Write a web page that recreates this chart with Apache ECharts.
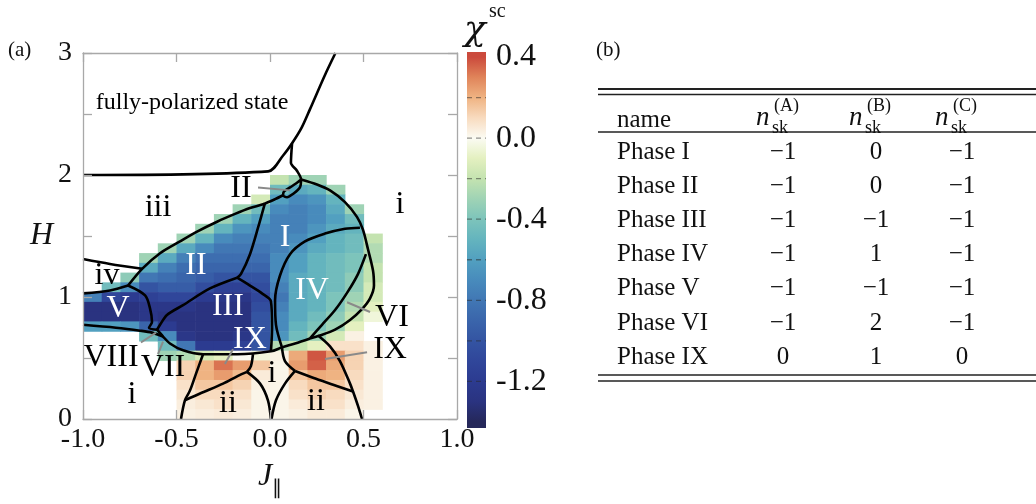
<!DOCTYPE html>
<html><head><meta charset="utf-8">
<script src="https://cdn.jsdelivr.net/npm/echarts@6/dist/echarts.min.js"></script>
<style>html,body{margin:0;padding:0;background:#fff}#c{width:1036px;height:504px}</style>
</head><body><div id="c"></div>
<script>
const _ = null;
const FF = "'Liberation Serif','Times New Roman',serif";

// ---- heat map of chi^sc: column centres (J_par), row centres (H, top to bottom) ----
const xCenters = [-0.95,-0.85,-0.75,-0.65,-0.55,-0.45,-0.35,-0.25,-0.15,-0.05,0.05,0.15,0.25,0.35,0.45,0.55];
const hCenters = [1.96,1.88,1.80,1.72,1.64,1.56,1.48,1.40,1.32,1.24,1.16,1.08,1.00,0.92,0.84,0.76,0.68,0.60,0.52,0.44,0.36,0.28,0.20,0.12,0.04];
const chiRows = [
 [_,_,_,_,_,_,_,_,_,_,-0.2,-0.3,-0.3,_,_,_],
 [_,_,_,_,_,_,_,_,_,_,-0.45,-0.55,-0.5,-0.3,_,_],
 [_,_,_,_,_,_,_,_,_,-0.15,-0.6,-0.7,-0.65,-0.5,_,_],
 [_,_,_,_,_,_,_,_,-0.3,-0.45,-0.7,-0.75,-0.7,-0.55,-0.3,_],
 [_,_,_,_,_,_,_,-0.3,-0.5,-0.6,-0.75,-0.75,-0.7,-0.6,-0.45,_],
 [_,_,_,_,_,_,-0.3,-0.5,-0.65,-0.7,-0.75,-0.75,-0.65,-0.55,-0.5,_],
 [_,_,_,_,_,-0.3,-0.5,-0.7,-0.75,-0.75,-0.75,-0.7,-0.6,-0.5,-0.45,-0.2],
 [_,_,_,_,-0.3,-0.55,-0.7,-0.8,-0.8,-0.8,-0.75,-0.65,-0.55,-0.5,-0.45,-0.25],
 [_,_,_,-0.3,-0.55,-0.75,-0.85,-0.85,-0.85,-0.85,-0.7,-0.6,-0.5,-0.45,-0.4,-0.25],
 [_,_,_,-0.55,-0.75,-0.85,-0.9,-0.9,-0.9,-0.9,-0.7,-0.6,-0.5,-0.45,-0.4,-0.2],
 [_,_,-0.35,-0.8,-0.85,-0.9,-0.95,-1.0,-1.0,-1.0,-0.7,-0.55,-0.5,-0.45,-0.35,-0.2],
 [_,-0.45,-0.7,-1.0,-0.95,-0.95,-1.05,-1.15,-1.15,-1.05,-0.75,-0.55,-0.5,-0.45,-0.35,-0.15],
 [-0.75,-1.1,-1.2,-1.15,-1.1,-1.1,-1.2,-1.25,-1.25,-1.1,-0.8,-0.55,-0.5,-0.4,-0.3,-0.15],
 [-1.3,-1.3,-1.3,-1.25,-1.25,-1.25,-1.3,-1.3,-1.3,-1.05,-0.75,-0.55,-0.5,-0.4,-0.25,-0.1],
 [-1.3,-1.3,-1.3,-1.25,-1.3,-1.3,-1.3,-1.3,-1.3,-1.0,-0.7,-0.55,-0.45,-0.35,-0.2,-0.05],
 [-0.6,-0.6,-0.65,-0.9,-1.2,-1.3,-1.3,-1.3,-1.3,-1.0,-0.7,-0.5,-0.4,-0.3,-0.1,_],
 [_,_,_,-0.45,-0.7,-1.25,-1.3,-1.3,-1.25,-1.0,-0.65,-0.45,-0.3,-0.15,0.03,_],
 [_,_,_,_,-0.45,-0.8,-1.2,-1.2,-1.15,-1.0,-0.25,-0.2,-0.1,0.08,0.08,0.03],
 [_,_,_,_,-0.3,-0.25,-0.15,-0.1,0.0,-0.05,0.03,0.22,0.38,0.25,0.12,0.03],
 [_,_,_,_,_,0.12,0.2,0.33,0.25,0.15,0.02,0.25,0.36,0.22,0.12,0.03],
 [_,_,_,_,_,0.12,0.2,0.25,0.18,0.05,0.02,0.15,0.22,0.2,0.1,0.03],
 [_,_,_,_,_,0.08,0.15,0.15,0.12,0.03,0.02,0.1,0.15,0.15,0.08,0.03],
 [_,_,_,_,_,0.06,0.1,0.1,0.08,0.02,0.02,0.08,0.12,0.1,0.06,0.03],
 [_,_,_,_,_,0.04,0.06,0.08,0.06,0.02,0.02,0.05,0.08,0.08,0.04,0.03],
 [_,_,_,_,_,0.03,0.04,0.05,0.04,0.02,0.02,0.03,0.05,0.05,0.02,_]
];
const cellW = 0.1, cellH = 0.08;

// ---- colour scale ----
const cmapValues = [-1.4,-1.3,-1.2,-1.1,-1.0,-0.9,-0.8,-0.7,-0.6,-0.5,-0.4,-0.3,-0.2,-0.1,0.0,0.1,0.2,0.3,0.4];
const cmapColors = ['#25285a','#2a3380','#2c3b90','#30469a','#3454a2','#3a65ab','#4177b4','#488bbc','#52a0c0','#64b4be','#7dc4bb','#9fd3b5','#c4e3b0','#e4f0c0','#fbfbf3','#f8dbbf','#efb382','#e0845a','#cb4a3c'];
const cbMin = -1.43, cbMax = 0.425;
const cbLabelValues = [0.4, 0.0, -0.4, -0.8, -1.2];
const cbTickValues = [0.2, 0.0, -0.2, -0.4, -0.6, -0.8, -1.0, -1.2];

// ---- phase boundaries (J_par, H) ----
const bFully = [[-1.0,2.0],[-0.01,2.03],[0.07,2.16],[0.118,2.26],[0.17,2.39],[0.214,2.54],[0.294,2.82],[0.35,3.0]];
const bStem = [[0.118,2.26],[0.112,2.10],[0.144,2.035],[0.166,1.963],[0.160,1.898],[0.128,1.850],[0.091,1.818],[0.070,1.834],[0.075,1.866],[0.107,1.898],[0.139,1.930],[0.166,1.963]];
const bIIUpper = [[-0.759,1.094],[-0.684,1.231],[-0.588,1.359],[-0.481,1.456],[-0.390,1.536],[-0.283,1.617],[-0.187,1.681],[-0.107,1.729],[-0.037,1.761],[0.027,1.802],[0.070,1.834]];
const bIvTop = [[-1.0,1.311],[-0.856,1.271],[-0.684,1.231]];
const bVTop = [[-1.0,1.030],[-0.856,1.054],[-0.759,1.094]];
const bVRight = [[-0.759,1.094],[-0.668,1.013],[-0.642,0.909],[-0.631,0.796],[-0.647,0.748],[-0.604,0.732]];
const bIIIUpper = [[-0.176,1.158],[-0.321,1.070],[-0.465,0.933],[-0.551,0.853],[-0.588,0.772],[-0.604,0.732]];
const bIandII = [[-0.027,1.770],[-0.064,1.568],[-0.107,1.351],[-0.155,1.190],[-0.176,1.158]];
const bIIIRight = [[-0.176,1.158],[-0.107,1.094],[-0.043,1.030],[0.005,0.965],[0.011,0.748],[0.005,0.555]];
const bIVInner = [[0.064,0.587],[0.032,0.772],[0.027,0.973],[0.053,1.174],[0.107,1.351],[0.187,1.456],[0.294,1.520],[0.401,1.560],[0.481,1.568]];
const bOuter = [[0.166,1.963],[0.251,1.922],[0.321,1.874],[0.401,1.778],[0.465,1.657],[0.497,1.552],[0.524,1.391],[0.551,1.215],[0.556,1.094],[0.535,0.989],[0.492,0.901],[0.428,0.812],[0.348,0.732],[0.267,0.684],[0.214,0.660]];
const bIVVI = [[0.513,1.351],[0.471,1.190],[0.417,1.046],[0.348,0.893],[0.278,0.772],[0.214,0.660]];
const bIIIBottom = [[0.214,0.660],[0.134,0.619],[0.064,0.587],[0.005,0.555],[-0.176,0.531],[-0.358,0.531],[-0.465,0.563],[-0.535,0.619],[-0.572,0.676],[-0.604,0.732]];
const bVBottom = [[-1.0,0.772],[-0.824,0.748],[-0.695,0.724],[-0.631,0.708],[-0.572,0.676]];
const bLeftCurve = [[-0.358,0.531],[-0.396,0.370],[-0.428,0.233],[-0.455,0.153],[-0.476,0.0]];
const bIILeftTop = [[-0.455,0.153],[-0.374,0.209],[-0.251,0.290],[-0.171,0.354],[-0.123,0.386]];
const bIXLeftSide = [[-0.091,0.531],[-0.102,0.434],[-0.123,0.386]];
const bLeftArc = [[-0.123,0.386],[-0.053,0.290],[-0.011,0.153],[0.005,0.0]];
const bRightArc = [[0.134,0.394],[0.080,0.290],[0.032,0.153],[0.008,0.0]];
const bIXRightSide = [[0.064,0.587],[0.080,0.475],[0.134,0.394]];
const bIXRightLower = [[0.134,0.394],[0.246,0.330],[0.353,0.273],[0.444,0.225]];
const bRightCurve = [[0.257,0.684],[0.321,0.595],[0.374,0.475],[0.428,0.290],[0.444,0.225],[0.471,0.105],[0.492,0.0]];
const boundaryLines = [bFully,bStem,bIIUpper,bIvTop,bVTop,bVRight,bIIIUpper,bIandII,bIIIRight,bIVInner,bOuter,bIVVI,bIIIBottom,bVBottom,bLeftCurve,bIILeftTop,bIXLeftSide,bLeftArc,bRightArc,bIXRightSide,bIXRightLower,bRightCurve];

// ---- leader lines and phase labels ----
const leaderLines = [
 [[-0.064,1.898],[0.107,1.874]],
 [[0.412,0.957],[0.535,0.877]],
 [[0.294,0.491],[0.519,0.547]],
 [[-0.241,0.450],[-0.198,0.571]],
 [[-0.690,0.627],[-0.610,0.708]],
 [[-0.599,0.531],[-0.572,0.635]]
];
const labelsWhite = [['II',-0.396,1.255],['I',0.080,1.488],['IV',0.225,1.054],['V',-0.813,0.909],['III',-0.225,0.925],['IX',-0.107,0.651]];
const labelsBlack = [['iii',-0.599,1.729],['i',0.695,1.761],['iv',-0.872,1.174],['VIII',-0.850,0.50],['VII',-0.572,0.42],['IX',0.642,0.571],['VI',0.652,0.828],['II',-0.155,1.885],['i',-0.738,0.201],['ii',-0.225,0.129],['ii',0.246,0.145],['i',0.011,0.370]];
const labelsState = [['fully-polarized state',-0.417,2.59]];

// ---- table (b) ----
const phaseNames = ['Phase I','Phase II','Phase III','Phase IV','Phase V','Phase VI','Phase IX'];
const nskA = [-1,-1,-1,-1,-1,-1,0];
const nskB = [0,0,-1,1,-1,2,1];
const nskC = [-1,-1,-1,-1,-1,-1,0];
const sublattices = ['A','B','C'];

// ================= build =================
const heatData = [];
chiRows.forEach((row, r) => row.forEach((v, c) => { if (v !== null) heatData.push([xCenters[c], hCenters[r], v]); }));

const span = cbMax - cbMin;
const cbStops = cmapValues.map((v, i) => ({offset: (cbMax - v) / span, color: cmapColors[i]})).sort((a, b) => a.offset - b.offset);
cbStops.unshift({offset: 0, color: cmapColors[cmapColors.length - 1]});
cbStops.push({offset: 1, color: cmapColors[0]});

const axisGray = '#a8a8a8';
const txt = '#111';

const series = [];
series.push({
  type: 'custom', coordinateSystem: 'cartesian2d', xAxisIndex: 0, yAxisIndex: 0, z: 1,
  data: heatData, encode: {x: 0, y: 1}, silent: true,
  renderItem: (params, api) => {
    const x = api.value(0), y = api.value(1);
    const p0 = api.coord([x - cellW / 2, y + cellH / 2]);
    const p1 = api.coord([x + cellW / 2, y - cellH / 2]);
    return {type: 'rect', shape: {x: p0[0], y: p0[1], width: p1[0] - p0[0] + 0.6, height: p1[1] - p0[1] + 0.6}, style: {fill: api.visual('color')}};
  }
});
series.push({
  type: 'custom', coordinateSystem: 'cartesian2d', xAxisIndex: 2, yAxisIndex: 2, z: 1,
  data: [[0.5, 0]], silent: true,
  renderItem: (params, api) => {
    const p0 = api.coord([0, cbMax]);
    const p1 = api.coord([1, cbMin]);
    const children = [{type: 'rect', shape: {x: p0[0], y: p0[1], width: p1[0] - p0[0], height: p1[1] - p0[1]},
      style: {fill: new echarts.graphic.LinearGradient(0, 0, 0, 1, cbStops)}}];
    cbTickValues.forEach(v => {
      const q0 = api.coord([0, v]), q1 = api.coord([1, v]);
      children.push({type: 'line', shape: {x1: q0[0], y1: q0[1], x2: q1[0], y2: q1[1]},
        style: {stroke: 'rgba(40,40,40,0.5)', lineWidth: 1.3, lineDash: [5, 4]}});
    });
    return {type: 'group', children: children};
  }
});
boundaryLines.forEach(pts => series.push({
  type: 'line', xAxisIndex: 0, yAxisIndex: 0, data: pts, symbol: 'none', smooth: 0.3,
  lineStyle: {color: '#000', width: 2.6}, z: 5, silent: true, clip: true
}));
leaderLines.forEach(pts => series.push({
  type: 'line', xAxisIndex: 0, yAxisIndex: 0, data: pts, symbol: 'none',
  lineStyle: {color: '#8a8a8a', width: 2}, z: 6, silent: true
}));
function labelSeries(arr, color, size) {
  return {
    type: 'scatter', xAxisIndex: 0, yAxisIndex: 0, z: 8, silent: true, symbolSize: 1,
    itemStyle: {color: 'rgba(0,0,0,0)', opacity: 1},
    data: arr.map(a => ({name: a[0], value: [a[1], a[2]]})),
    label: {show: true, position: 'inside', formatter: '{b}', color: color, opacity: 1, fontSize: size, fontFamily: FF, align: 'center', verticalAlign: 'middle', textBorderWidth: 0}
  };
}
series.push(labelSeries(labelsWhite, '#ffffff', 32));
series.push(labelSeries(labelsBlack, '#000000', 32));
series.push(labelSeries(labelsState, '#000000', 24));

// table graphics
const g = [];
const ruleL = 598, ruleR = 1036;
const colX = [783, 876, 962];
const rowY0 = 152, rowDY = 34.2;
const hline = (y, w) => g.push({type: 'line', shape: {x1: ruleL, y1: y, x2: ruleR, y2: y}, style: {stroke: '#222', lineWidth: w}, silent: true});
hline(89, 2); hline(94.5, 1.4); hline(132, 1.4); hline(375, 1.6); hline(381, 1.6);
const tt = (text, x, y, size, opts) => g.push({type: 'text', x: x, y: y, silent: true,
  style: Object.assign({text: text, fontSize: size, fontFamily: FF, fill: txt, align: 'left', verticalAlign: 'middle'}, opts || {})});
tt('name', 617, 120, 25);
sublattices.forEach((s, i) => {
  const cx = colX[i];
  tt('n', cx - 27, 118, 27, {fontStyle: 'italic'});
  tt('sk', cx - 11, 128, 18);
  tt('(' + s + ')', cx - 9, 106, 18);
});
const fmt = v => v < 0 ? '\u2212' + Math.abs(v) : String(v);
phaseNames.forEach((nm, r) => {
  const y = rowY0 + r * rowDY;
  tt(nm, 617, y, 25);
  [nskA[r], nskB[r], nskC[r]].forEach((v, i) => tt(fmt(v), colX[i], y, 25, {align: 'center'}));
});
tt('(a)', 8, 50, 21);
tt('(b)', 596, 50, 21);
// colour-bar title
tt('\u03c7', 464, 31, 36, {fontStyle: 'italic', fontFamily: "'DejaVu Serif',serif"});
tt('sc', 489, 12, 20);

const chart = echarts.init(document.getElementById('c'), null, {renderer: 'canvas'});
chart.setOption({
  animation: false,
  backgroundColor: '#fff',
  grid: [
    {left: 83, top: 53, width: 374, height: 373},
    {left: 467, top: 52, width: 19, height: 376}
  ],
  visualMap: {show: false, type: 'continuous', min: -1.4, max: 0.4, dimension: 2, seriesIndex: 0, inRange: {color: cmapColors}},
  xAxis: [
    {gridIndex: 0, type: 'value', min: -1, max: 1, interval: 0.5, position: 'bottom', z: 10,
     axisLine: {show: true, onZero: false, lineStyle: {color: axisGray, width: 1.3}},
     axisTick: {inside: true, length: 9, lineStyle: {color: axisGray, width: 1.3}},
     axisLabel: {formatter: v => v.toFixed(1), fontSize: 28, fontFamily: FF, color: txt, margin: 7},
     splitLine: {show: false},
     name: '{j|J}{s|\u2225}', nameLocation: 'middle', nameGap: 40,
     nameTextStyle: {rich: {j: {fontSize: 32, fontStyle: 'italic', fontFamily: FF, color: txt, lineHeight: 36},
                            s: {fontSize: 20, fontFamily: FF, color: txt, verticalAlign: 'bottom', padding: [0, 0, -4, 0]}}}},
    {gridIndex: 0, type: 'value', min: -1, max: 1, interval: 0.5, position: 'top', z: 10,
     axisLine: {show: true, onZero: false, lineStyle: {color: axisGray, width: 1.3}},
     axisTick: {inside: true, length: 9, lineStyle: {color: axisGray, width: 1.3}},
     axisLabel: {show: false}, splitLine: {show: false}},
    {gridIndex: 1, type: 'value', min: 0, max: 1, show: false}
  ],
  yAxis: [
    {gridIndex: 0, type: 'value', min: 0, max: 3, interval: 0.5, position: 'left', z: 10,
     axisLine: {show: true, onZero: false, lineStyle: {color: axisGray, width: 1.3}},
     axisTick: {inside: true, length: 9, lineStyle: {color: axisGray, width: 1.3}},
     axisLabel: {formatter: v => Number.isInteger(v) ? String(v) : '', fontSize: 28, fontFamily: FF, color: txt, margin: 11},
     splitLine: {show: false},
     name: 'H', nameLocation: 'middle', nameRotate: 0, nameGap: 30,
     nameTextStyle: {fontSize: 32, fontStyle: 'italic', fontFamily: FF, color: txt}},
    {gridIndex: 0, type: 'value', min: 0, max: 3, interval: 0.5, position: 'right', z: 10,
     axisLine: {show: true, onZero: false, lineStyle: {color: axisGray, width: 1.3}},
     axisTick: {inside: true, length: 9, lineStyle: {color: axisGray, width: 1.3}},
     axisLabel: {show: false}, splitLine: {show: false}},
    {gridIndex: 1, type: 'value', min: cbMin, max: cbMax, position: 'right', z: 10,
     axisLine: {show: false},
     axisTick: {show: false},
     axisLabel: {customValues: cbLabelValues, formatter: v => v.toFixed(1), fontSize: 32, fontFamily: FF, color: txt, margin: 10},
     splitLine: {show: false}}
  ],
  graphic: g,
  series: series
});
</script></body></html>
